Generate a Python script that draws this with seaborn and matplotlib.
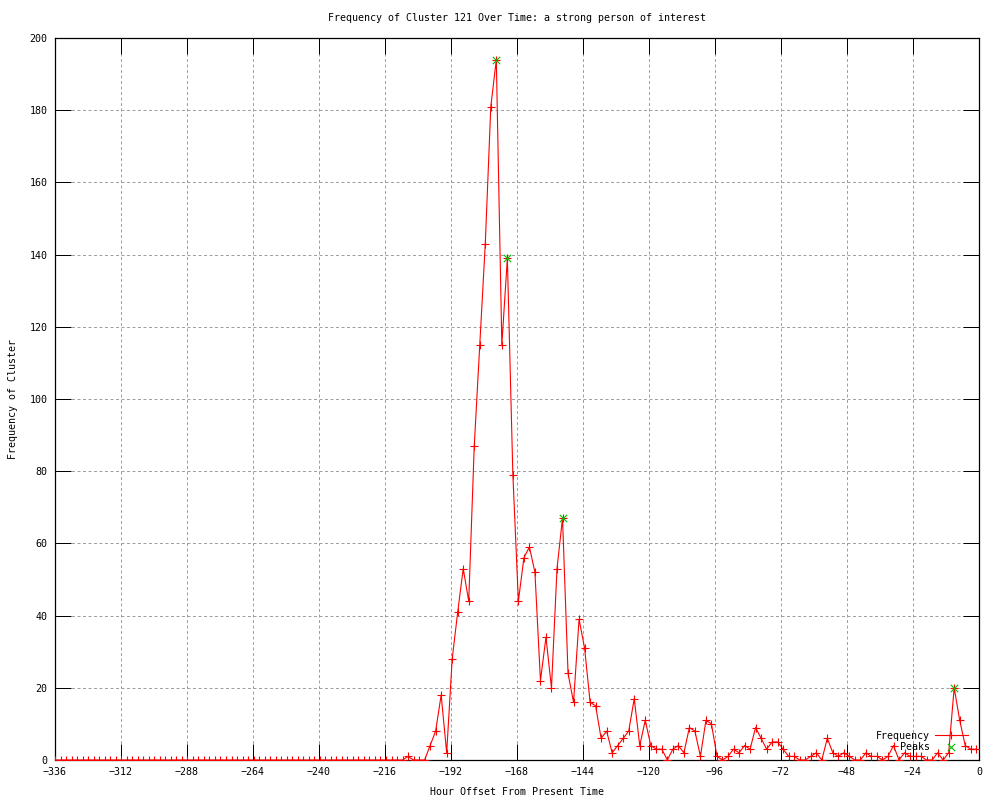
import numpy as np
import pandas as pd
import matplotlib
matplotlib.use("Agg")
import matplotlib.pyplot as plt
import seaborn as sns

# ---- data ----
hours = np.linspace(-336, -1, 168)  # hour offsets of the 168 samples
frequency = (
    [0] * 64
    + [1, 0, 0, 0, 4, 8, 18, 2, 28, 41, 53, 44, 87, 115, 143, 181, 194, 115,
       139, 79, 44, 56, 59, 52, 22, 34, 20, 53, 67, 24, 16, 39, 31, 16, 15, 6,
       8, 2, 4, 6, 8, 17, 4, 11, 4, 3, 3, 0, 3, 4, 2, 9, 8, 1, 11, 10, 1, 0,
       1, 3, 2, 4, 3, 9, 6, 3, 5, 5, 3, 1, 1, 0, 0, 1, 2, 0, 6, 2, 1, 2, 1, 0,
       0, 2, 1, 1, 0, 1, 4, 0, 2, 1, 1, 1, 0, 0, 2, 0, 2, 20, 11, 4, 3, 3]
)
peak_index = [80, 82, 92, 163]

title = "Frequency of Cluster 121 Over Time: a strong person of interest"
xlabel = "Hour Offset From Present Time"
ylabel = "Frequency of Cluster"
xticks = list(range(-336, 1, 24))
yticks = list(range(0, 201, 20))

df = pd.DataFrame({"hour": hours, "freq": frequency})
peaks = df.iloc[peak_index]

# ---- style ----
plt.rcParams["font.family"] = ["DejaVu Sans Mono"]
plt.rcParams["lines.scale_dashes"] = False
FS = 7.2

fig = plt.figure(figsize=(10, 8), dpi=100)
ax = fig.add_axes([0.055, 0.05, 0.924, 0.9025])

sns.lineplot(data=df, x="hour", y="freq", ax=ax, color="#ff0000",
             linewidth=0.8, marker="+", markersize=5.5, markeredgewidth=0.8,
             markeredgecolor="#ff0000", estimator=None, label="Frequency",
             zorder=3)
sns.scatterplot(data=peaks, x="hour", y="freq", ax=ax, marker="x",
                color="#00c000", s=28, linewidth=0.8, label="Peaks", zorder=4)

ax.set_xlim(-336, 0)
ax.set_ylim(0, 200)
ax.set_xticks(xticks)
ax.set_yticks(yticks)
ax.tick_params(axis="both", which="major", direction="in", length=11.5,
               width=0.72, top=True, right=True, labelsize=FS, colors="black")
ax.tick_params(axis="x", pad=5)
ax.tick_params(axis="y", pad=5.5)
ax.grid(True, color="#a0a0a0", linewidth=0.72, linestyle=(0, (2.16, 1.8)))
ax.set_axisbelow(True)
for sp in ax.spines.values():
    sp.set_linewidth(0.9)
    sp.set_color("black")

ax.set_title(title, fontsize=FS, pad=12)
ax.set_xlabel(xlabel, fontsize=FS, labelpad=7)
ax.set_ylabel(ylabel, fontsize=FS, labelpad=8)

ax.legend(loc="lower right", bbox_to_anchor=(0.988, 0.011), frameon=False,
          markerfirst=False, handlelength=3.3, handletextpad=0.5,
          labelspacing=0.15, borderpad=0, borderaxespad=0, fontsize=FS,
          numpoints=1, scatterpoints=1)

fig.savefig("out.png", dpi=100)
